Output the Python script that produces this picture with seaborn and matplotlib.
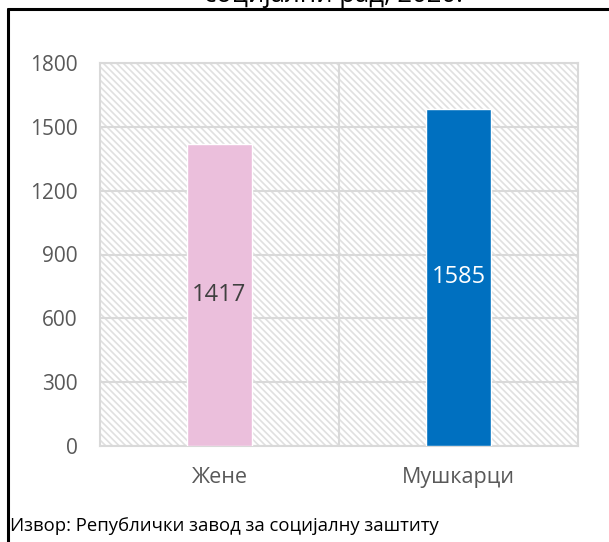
import matplotlib
matplotlib.use("Agg")
import matplotlib.pyplot as plt
import seaborn as sns
import pandas as pd
from matplotlib.patches import Rectangle
from matplotlib.lines import Line2D

# Подаци
categories = ["Жене", "Мушкарци"]
values = [1417, 1585]
bar_colors = ["#EBBFDC", "#0070C0"]
label_colors = ["#404040", "white"]
y_ticks = [0, 300, 600, 900, 1200, 1500, 1800]

title_text = "социјални рад, 2020."
source_text = "Извор: Републички завод за социјалну заштиту"

sns.set_style("white")
plt.rcParams["font.family"] = ["Open Sans", "DejaVu Sans"]
plt.rcParams["hatch.linewidth"] = 1.2

df = pd.DataFrame({"pol": categories, "broj": values})

fig = plt.figure(figsize=(6.09, 5.42), dpi=100)
ax = fig.add_axes([100 / 609, 1 - 446 / 542, 478 / 609, 383 / 542])

# šrafirana pozadina
bg = Rectangle((0, 0), 1, 1, transform=ax.transAxes, facecolor="white",
               edgecolor="#e0e0e0", hatch="\\\\\\\\\\", linewidth=0, zorder=0)
ax.add_patch(bg)

sns.barplot(data=df, x="pol", y="broj", hue="pol", palette=bar_colors,
            width=0.27, legend=False, ax=ax, zorder=3, saturation=1)

ax.set_ylim(0, 1800)
ax.set_xlim(-0.5, 1.5)
ax.set_yticks(y_ticks)
ax.set_xlabel("")
ax.set_ylabel("")
ax.set_axisbelow(True)
ax.grid(True, axis="y", color="#d9d9d9", linewidth=1.5)
ax.set_xticks([0, 1])
ax.set_xticks([0.5], minor=True)
ax.grid(True, axis="x", which="minor", color="#d9d9d9", linewidth=1.5)
ax.tick_params(axis="both", length=0, labelcolor="#595959")
ax.tick_params(axis="y", pad=16, labelsize=15)
ax.tick_params(axis="x", pad=15, labelsize=15.5)
ax.tick_params(which="minor", length=0)
for sp in ax.spines.values():
    sp.set_visible(True)
    sp.set_color("#d9d9d9")
    sp.set_linewidth(1.5)

for i, (v, c) in enumerate(zip(values, label_colors)):
    ax.text(i, v / 2, str(v), ha="center", va="center", fontsize=17, color=c, zorder=4)

# naslov (odsečen na vrhu) i izvor
fig.text(333 / 609, 1 - 1.5 / 542, title_text, ha="center", va="baseline",
         fontsize=18.5, color="black")
fig.text(10 / 609, 1 - 531 / 542, source_text, ha="left", va="baseline",
         fontsize=13.3, color="black")

# crni okvir
fig.add_artist(Line2D([8 / 609, 1.0], [1 - 9 / 542, 1 - 9 / 542],
                      transform=fig.transFigure, color="black", linewidth=2.2))
fig.add_artist(Line2D([8 / 609, 8 / 609], [0.0, 1 - 9 / 542],
                      transform=fig.transFigure, color="black", linewidth=2.2))

fig.savefig("out.png", dpi=100)
